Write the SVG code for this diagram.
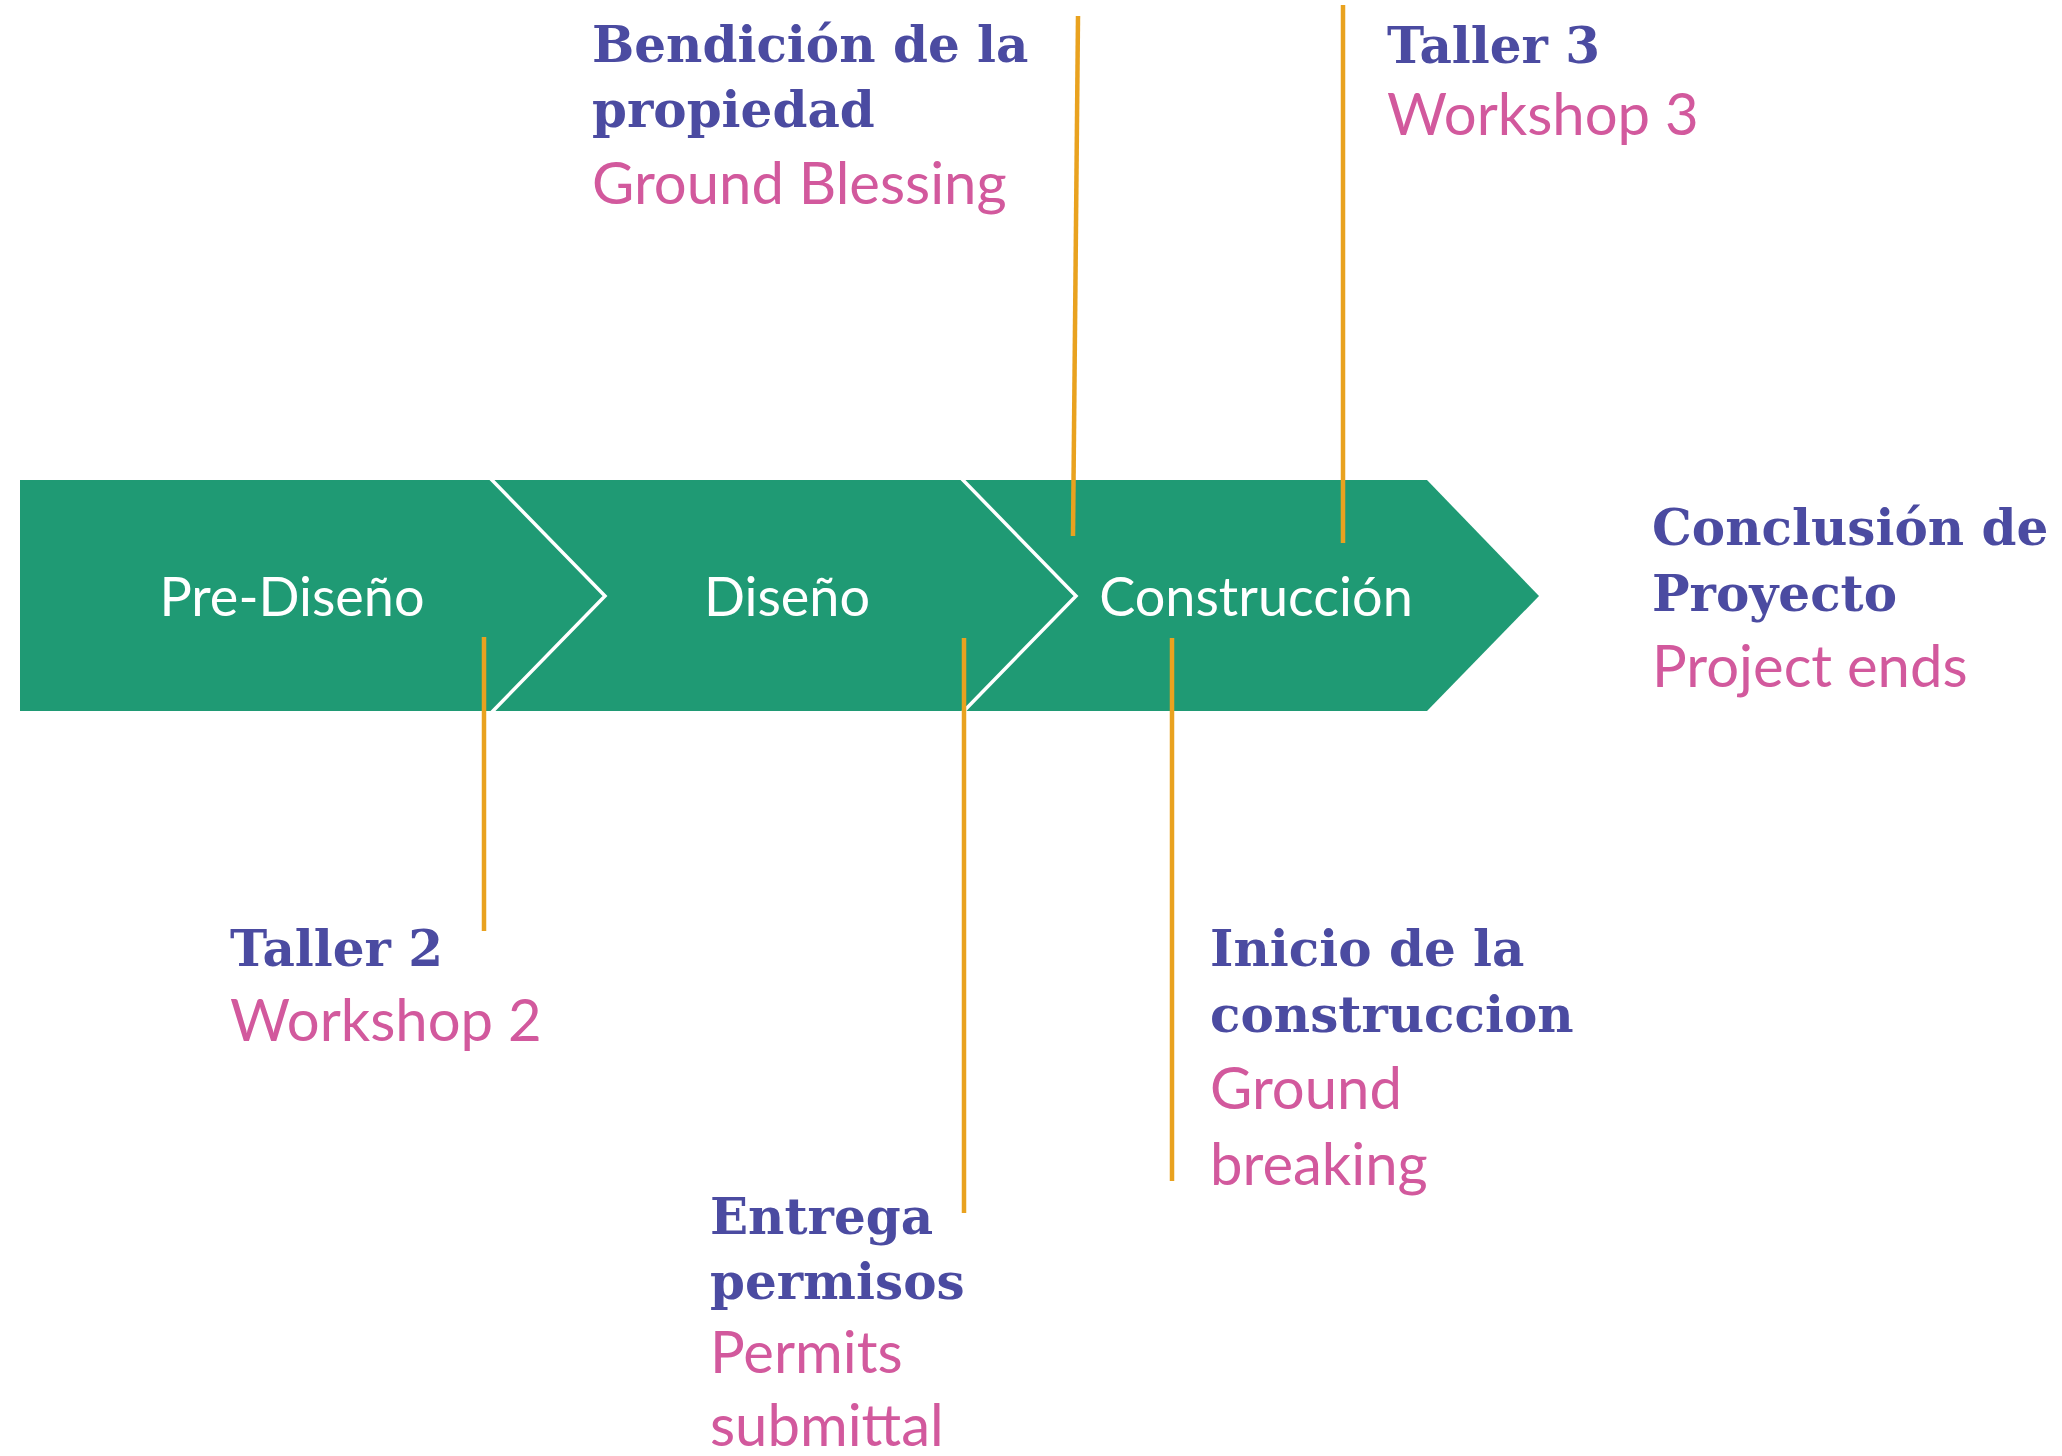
<svg xmlns="http://www.w3.org/2000/svg" width="2062" height="1456" viewBox="0 0 2062 1456">
<style>
.bg{fill:#ffffff}
.band{fill:#1f9a74}
.sep{fill:none;stroke:#ffffff;stroke-width:3.5}
.phase{font-family:Lato,"Open Sans",sans-serif;font-size:54px;fill:#ffffff;text-anchor:middle}
.title{font-family:"DejaVu Serif",serif;font-weight:bold;font-size:50px;fill:#4b4ba1}
.sub{font-family:Lato,"Open Sans",sans-serif;font-size:58px;fill:#d2599d}
.lead{stroke:#e9a21f;stroke-width:4.5;fill:none}
</style>
<rect class="bg" x="0" y="0" width="2062" height="1456"/>
<g id="timeline">
  <polygon class="band" points="20,480 1427,480 1539,596 1427,711 20,711"/>
  <polyline class="sep" points="490,478 605,596 491,713"/>
  <polyline class="sep" points="961,478 1076,596 962,713"/>
</g>
<g id="phase-prediseno"><text class="phase" x="292" y="616">Pre-Diseño</text></g>
<g id="phase-diseno"><text class="phase" x="787" y="616">Diseño</text></g>
<g id="phase-construccion"><text class="phase" x="1256" y="616">Construcción</text></g>
<g id="connectors">
  <line class="lead" x1="484" y1="637" x2="484" y2="931"/>
  <line class="lead" x1="964" y1="638" x2="964" y2="1213"/>
  <line class="lead" x1="1172" y1="638" x2="1172" y2="1181"/>
  <line class="lead" x1="1078" y1="16" x2="1073" y2="536"/>
  <line class="lead" x1="1343" y1="5" x2="1343" y2="543"/>
</g>
<g id="bendicion">
  <text class="title" x="592" y="62">Bendición de la</text>
  <text class="title" x="592" y="127">propiedad</text>
  <text class="sub" x="592" y="204">Ground Blessing</text>
</g>
<g id="taller3">
  <text class="title" x="1387" y="63">Taller 3</text>
  <text class="sub" x="1387" y="135">Workshop 3</text>
</g>
<g id="conclusion">
  <text class="title" x="1652" y="545">Conclusión de</text>
  <text class="title" x="1652" y="611">Proyecto</text>
  <text class="sub" x="1652" y="687">Project ends</text>
</g>
<g id="taller2">
  <text class="title" x="230" y="966">Taller 2</text>
  <text class="sub" x="230" y="1041">Workshop 2</text>
</g>
<g id="inicio">
  <text class="title" x="1210" y="966">Inicio de la</text>
  <text class="title" x="1210" y="1032">construccion</text>
  <text class="sub" x="1210" y="1109">Ground</text>
  <text class="sub" x="1210" y="1185">breaking</text>
</g>
<g id="entrega">
  <text class="title" x="710" y="1234">Entrega</text>
  <text class="title" x="710" y="1299">permisos</text>
  <text class="sub" x="710" y="1373">Permits</text>
  <text class="sub" x="710" y="1446">submittal</text>
</g>
</svg>
